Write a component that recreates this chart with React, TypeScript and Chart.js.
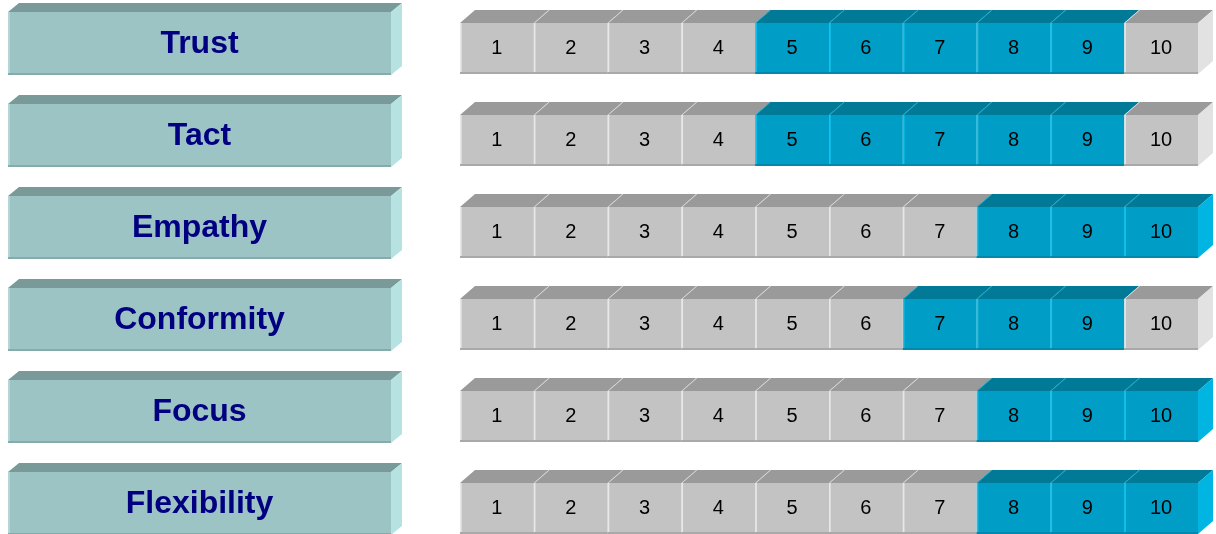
import React, { useEffect, useRef } from "react";
import { Chart, registerables } from "chart.js";

Chart.register(...registerables);

const traits = ["Trust", "Tact", "Empathy", "Conformity", "Focus", "Flexibility"];
const cellLabels = ["1", "2", "3", "4", "5", "6", "7", "8", "9", "10"];
const rangeStart = [5, 5, 8, 7, 8, 8];
const rangeEnd = [9, 9, 10, 9, 10, 10];

const GREY = { front: "#C3C3C3", top: "#9A9A9A", side: "#E2E2E2", edge: "#E8E8E8", sep: "#D8D8D8", bottom: "#A9A9A9" };
const BLUE = { front: "#009EC6", top: "#007A96", side: "#00B5E2", edge: "#12C4F0", sep: "#22A9CC", bottom: "#0089AC" };
const TEAL = { front: "#9DC4C4", top: "#7A9A9A", side: "#B6E2E2", edge: "#B4D6D6", bottom: "#86ABAB" };

const inRange = (row: number, cell: number) => cell >= rangeStart[row] && cell <= rangeEnd[row];

const cubePlugin = {
  id: "cube3d",
  beforeDatasetsDraw(chart: any) {
    const ctx = chart.ctx;
    const yScale = chart.scales.y;
    ctx.save();
    chart.data.labels.forEach((lab: string, r: number) => {
      const cy = yScale.getPixelForValue(r);
      const l = 8, rt = 391, t = cy - 36.5, b = cy + 26.5;
      const dx = 11, dy = 9;
      ctx.fillStyle = TEAL.front;
      ctx.fillRect(l, t, rt - l, b - t);
      ctx.fillStyle = TEAL.edge;
      ctx.fillRect(l, t, 2, b - t);
      ctx.fillStyle = TEAL.bottom;
      ctx.fillRect(l, b - 2, rt - l, 2);
      ctx.fillStyle = TEAL.top;
      ctx.beginPath();
      ctx.moveTo(l, t);
      ctx.lineTo(rt, t);
      ctx.lineTo(rt + dx, t - dy);
      ctx.lineTo(l + dx, t - dy);
      ctx.closePath();
      ctx.fill();
      ctx.fillStyle = TEAL.side;
      ctx.beginPath();
      ctx.moveTo(rt, t);
      ctx.lineTo(rt + dx, t - dy);
      ctx.lineTo(rt + dx, b - dy);
      ctx.lineTo(rt, b);
      ctx.closePath();
      ctx.fill();
      ctx.fillStyle = "#000080";
      ctx.font = "bold 32px 'Liberation Sans', Arial, sans-serif";
      ctx.textAlign = "center";
      ctx.textBaseline = "middle";
      ctx.fillText(lab, (l + rt) / 2, (t + b) / 2 + 1);
    });
    ctx.restore();
  },
  afterDatasetsDraw(chart: any) {
    const ctx = chart.ctx;
    const dx = 15, dy = 13;
    const n = chart.data.datasets.length;
    ctx.save();
    chart.data.datasets.forEach((ds: any, di: number) => {
      const meta = chart.getDatasetMeta(di);
      meta.data.forEach((el: any, r: number) => {
        const p = el.getProps(["x", "y", "base", "height"], true);
        const left = Math.min(p.x, p.base);
        const right = Math.max(p.x, p.base);
        const top = p.y - p.height / 2;
        const bottom = p.y + p.height / 2;
        const pal = inRange(r, di + 1) ? BLUE : GREY;
        ctx.fillStyle = pal.bottom;
        ctx.fillRect(left, bottom - 2, right - left, 2);
        ctx.fillStyle = pal.top;
        ctx.beginPath();
        ctx.moveTo(left, top);
        ctx.lineTo(right, top);
        ctx.lineTo(right + dx, top - dy);
        ctx.lineTo(left + dx, top - dy);
        ctx.closePath();
        ctx.fill();
        if (di > 0) {
          ctx.strokeStyle = pal.sep;
          ctx.lineWidth = 1;
          ctx.beginPath();
          ctx.moveTo(left + 0.5, top);
          ctx.lineTo(left + dx + 0.5, top - dy);
          ctx.stroke();
        }
        if (di === n - 1) {
          ctx.fillStyle = pal.side;
          ctx.beginPath();
          ctx.moveTo(right, top);
          ctx.lineTo(right + dx, top - dy);
          ctx.lineTo(right + dx, bottom - dy);
          ctx.lineTo(right, bottom);
          ctx.closePath();
          ctx.fill();
        }
        ctx.fillStyle = "#000000";
        ctx.font = "20px 'Liberation Sans', Arial, sans-serif";
        ctx.textAlign = "center";
        ctx.textBaseline = "middle";
        ctx.fillText(ds.label, (left + right) / 2, p.y);
      });
    });
    ctx.restore();
  },
};

export default function App() {
  const ref = useRef<HTMLCanvasElement>(null);
  useEffect(() => {
    if (!ref.current) return;
    const datasets = cellLabels.map((lab, i) => ({
      label: lab,
      data: traits.map(() => [i, i + 1]),
      backgroundColor: traits.map((_, r) => (inRange(r, i + 1) ? BLUE.front : GREY.front)),
      borderColor: traits.map((_, r) => (inRange(r, i + 1) ? BLUE.edge : GREY.edge)),
      borderWidth: { left: 2, right: 0, top: 0, bottom: 0 },
      borderSkipped: false,
      barThickness: 51,
      grouped: false,
      clip: false,
    }));
    const chart = new Chart(ref.current, {
      type: "bar",
      data: { labels: traits, datasets: datasets as any },
      options: {
        indexAxis: "y",
        animation: false,
        responsive: true,
        maintainAspectRatio: false,
        layout: { padding: { left: 460, right: 18, top: 48.5, bottom: 25.5 } },
        scales: {
          x: { type: "linear", min: 0, max: cellLabels.length, display: false },
          y: { type: "category", offset: false, display: false },
        },
        plugins: {
          legend: { display: false },
          tooltip: { enabled: false },
        },
      },
      plugins: [cubePlugin],
    });
    return () => chart.destroy();
  }, []);
  return (
    <div style={{ position: "fixed", left: 0, top: 0, width: 1216, height: 534, background: "#fff" }}>
      <canvas ref={ref} />
    </div>
  );
}
